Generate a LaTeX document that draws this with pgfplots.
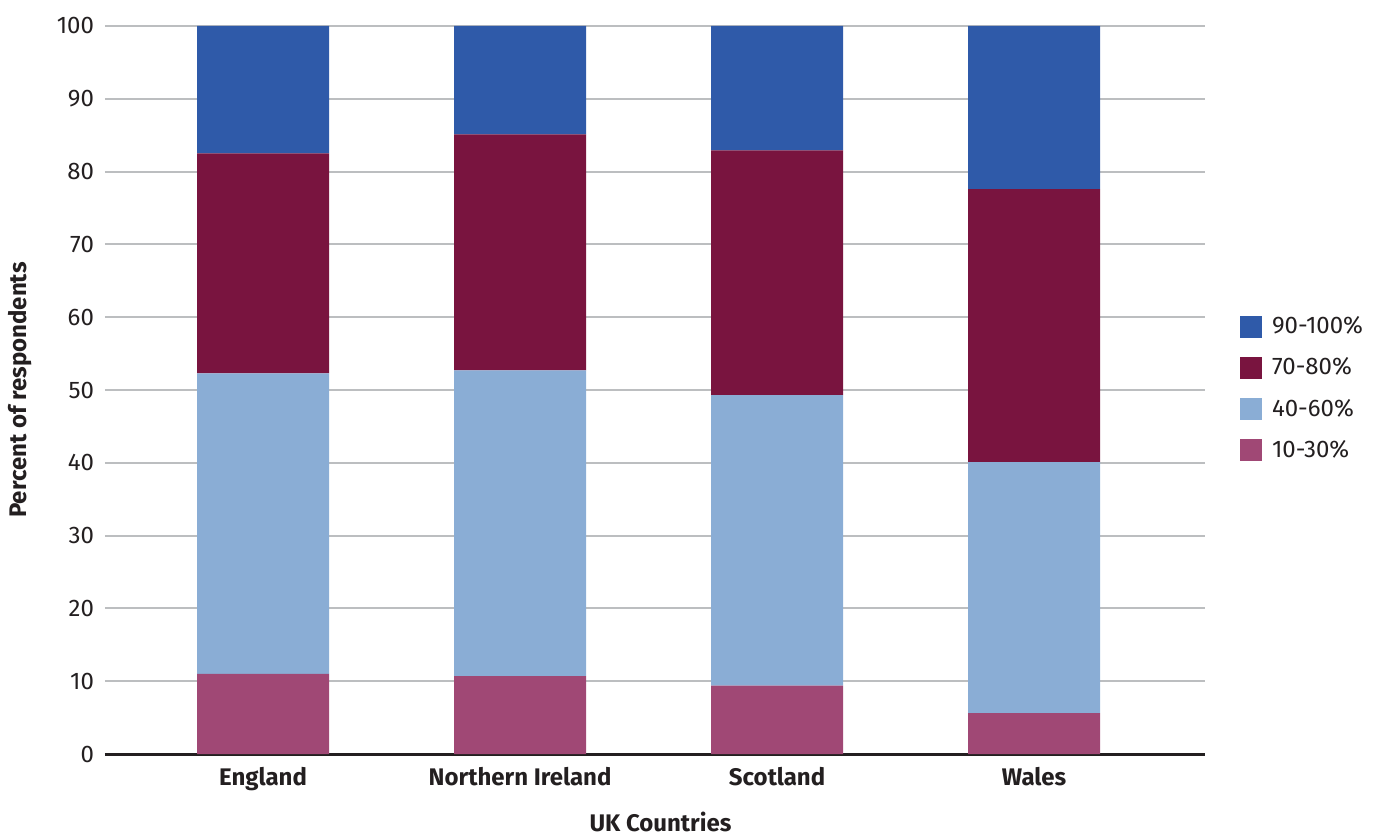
\documentclass[border=0pt]{standalone}
\usepackage{fontspec}
\setmainfont{Fira Sans}
\usepackage{pgfplots}
\pgfplotsset{compat=1.18}
\definecolor{c1}{HTML}{A04875}
\definecolor{c2}{HTML}{8AADD5}
\definecolor{c3}{HTML}{79143F}
\definecolor{c4}{HTML}{2F5AA9}
\definecolor{txt}{HTML}{231F20}
\definecolor{gridc}{HTML}{BCBEC0}
\begin{document}
\begin{tikzpicture}
\begin{axis}[
  at={(0,0)}, anchor=south west,
  scale only axis, width=550pt, height=364pt,
  ybar stacked, bar width=66pt,
  xmin=-0.615, xmax=3.665, ymin=0, ymax=100,
  xtick={0,1,2,3},
  xticklabels={England,Northern Ireland,Scotland,Wales},
  ytick={0,10,...,100},
  ymajorgrids, grid style={gridc, line width=1pt},
  axis x line*=bottom, axis y line*=left,
  y axis line style={draw=none},
  x axis line style={line width=1.5pt, draw=txt, -},
  major tick length=0pt,
  /pgf/number format/assume math mode=true,
  yticklabel style={font=\fontsize{12}{14}\selectfont, text=txt, xshift=-2pt},
  xticklabel style={font=\bfseries\fontsize{12}{14}\selectfont, text=txt, yshift=-3pt},
  ylabel={Percent of respondents},
  ylabel style={at={(axis description cs:-0.077,0.5)}, anchor=center, rotate=0, font=\bfseries\fontsize{12}{14}\selectfont, text=txt},
  xlabel={UK Countries},
  xlabel style={at={(axis description cs:0.505,-0.093)}, anchor=center, font=\bfseries\fontsize{12}{14}\selectfont, text=txt},
  legend style={at={(1.026,0.612)}, anchor=north west, draw=none, fill=none,
    font=\fontsize{12}{14}\selectfont, text=txt, row sep=6.5pt, legend cell align=left,
    nodes={inner xsep=5pt}},
  legend image code/.code={\fill[#1] (0pt,-5.5pt) rectangle (11pt,5.5pt);},
  reverse legend,
]
\addplot[fill=c1, draw=none] coordinates {(0,11.0) (1,10.7) (2,9.4) (3,5.6)};
\addplot[fill=c2, draw=none] coordinates {(0,41.3) (1,42.0) (2,39.9) (3,34.5)};
\addplot[fill=c3, draw=none] coordinates {(0,30.2) (1,32.4) (2,33.6) (3,37.5)};
\addplot[fill=c4, draw=none] coordinates {(0,17.5) (1,14.9) (2,17.1) (3,22.4)};
\legend{10-30\%,40-60\%,70-80\%,90-100\%}
\end{axis}
\path[use as bounding box] (-52.5pt,-39pt) rectangle (640pt,377pt);
\end{tikzpicture}
\end{document}
